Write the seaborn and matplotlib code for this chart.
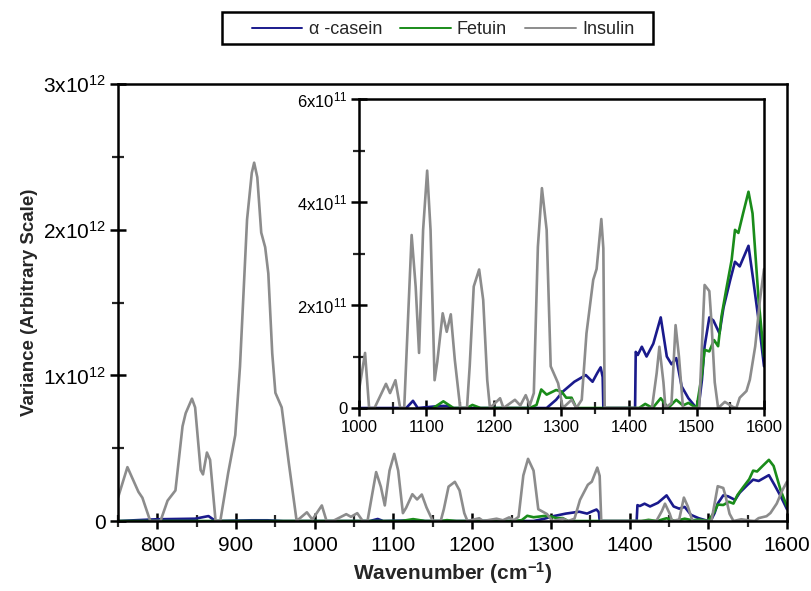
import numpy as np
import pandas as pd
import matplotlib
matplotlib.use("Agg")
import matplotlib.pyplot as plt
import seaborn as sns
from matplotlib.ticker import MultipleLocator
from matplotlib.patches import Rectangle

# Wavenumber (cm-1) / variance values
insulin_x = [750, 762, 776, 781, 791, 804, 813, 823, 832, 836, 844, 848, 855, 858, 863, 867,
             874, 880, 890, 899, 905, 914, 920, 923, 927, 932, 937, 941, 946, 950, 958, 967,
             977, 990, 997, 1009, 1015, 1023, 1040, 1046, 1054, 1061, 1067, 1073, 1078, 1084,
             1089, 1095, 1101, 1106, 1112, 1116, 1124, 1130, 1136, 1142, 1150, 1160, 1164, 1170,
             1178, 1184, 1190, 1194, 1209, 1214, 1231, 1239, 1247, 1253, 1259, 1265, 1271, 1278,
             1284, 1295, 1302, 1315, 1322, 1330, 1337, 1347, 1352, 1359, 1362, 1364, 1434, 1441,
             1445, 1451, 1454, 1463, 1469, 1474, 1480, 1504, 1512, 1519, 1522, 1527, 1532, 1542,
             1554, 1559, 1564, 1574, 1579, 1587, 1594, 1600]
insulin_y = [1.6e11, 3.7e11, 2.0e11, 1.6e11, 0, 0, 1.4e11, 2.1e11, 6.5e11, 7.4e11, 8.4e11, 7.8e11,
             3.5e11, 3.2e11, 4.7e11, 4.2e11, 0, 0, 3.3e11, 5.9e11, 1.06e12, 2.07e12, 2.39e12,
             2.46e12, 2.36e12, 1.98e12, 1.88e12, 1.70e12, 1.15e12, 0.88e12, 0.78e12, 0.40e12,
             0, 0.6e11, 0.1e11, 1.07e11, 0, 0, 0.47e11, 0.29e11, 0.54e11, 0, 0, 1.84e11, 3.36e11,
             2.35e11, 1.07e11, 3.46e11, 4.61e11, 3.46e11, 0.54e11, 0.9e11, 1.84e11, 1.48e11,
             1.82e11, 0.93e11, 0, 0, 0.81e11, 2.36e11, 2.69e11, 2.1e11, 0.54e11, 0, 0.19e11, 0,
             0.16e11, 0.05e11, 0.25e11, 0.05e11, 0.29e11, 3.13e11, 4.27e11, 3.46e11, 0.81e11,
             0.48e11, 0, 0.16e11, 0, 0.16e11, 1.45e11, 2.49e11, 2.7e11, 3.67e11, 3.1e11, 0, 0,
             0.68e11, 1.19e11, 0.5e11, 0, 0.1e11, 1.61e11, 1.0e11, 0, 0, 2.39e11, 2.27e11,
             1.7e11, 0.5e11, 0, 0.12e11, 0.02e11, 0, 0.2e11, 0.33e11, 0.55e11, 1.2e11, 2.1e11,
             2.7e11]

casein_x = [750, 799, 848, 865, 874, 920, 940, 960, 1000, 1070, 1080, 1087, 1120, 1130, 1140,
            1193, 1278, 1292, 1302, 1319, 1336, 1346, 1353, 1358, 1361, 1362, 1409, 1410, 1413,
            1419, 1426, 1436, 1447, 1456, 1463, 1470, 1478, 1488, 1498, 1503, 1508, 1512, 1519,
            1525, 1534, 1540, 1550, 1557, 1564, 1577, 1584, 1592, 1600]
casein_y = [0, 0.12e11, 0.16e11, 0.34e11, 0, 0.05e11, 0.05e11, 0, 0, 0, 0.14e11, 0, 0.04e11,
            0.04e11, 0, 0, 0, 0.16e11, 0.32e11, 0.51e11, 0.64e11, 0.51e11, 0.68e11, 0.79e11,
            0.6e11, 0, 0, 1.09e11, 1.03e11, 1.19e11, 1.0e11, 1.25e11, 1.76e11, 1.0e11, 0.85e11,
            0.97e11, 0.42e11, 0.19e11, 0.03e11, 0, 0.54e11, 1.2e11, 1.76e11, 1.7e11, 1.45e11,
            1.95e11, 2.49e11, 2.84e11, 2.75e11, 3.15e11, 2.49e11, 1.7e11, 0.81e11]

fetuin_x = [750, 1110, 1125, 1140, 1160, 1168, 1180, 1253, 1263, 1270, 1278, 1292, 1300, 1307,
            1315, 1322, 1415, 1424, 1435, 1447, 1458, 1470, 1480, 1488, 1500, 1508, 1512, 1519,
            1526, 1532, 1537, 1544, 1552, 1557, 1562, 1569, 1577, 1583, 1592, 1600]
fetuin_y = [0, 0, 0.13e11, 0, 0, 0.06e11, 0, 0, 0.06e11, 0.36e11, 0.26e11, 0.35e11, 0.32e11,
            0.2e11, 0.2e11, 0, 0, 0.08e11, 0, 0.19e11, 0, 0.16e11, 0.05e11, 0.1e11, 0, 0.65e11,
            1.13e11, 1.1e11, 1.32e11, 1.2e11, 1.78e11, 2.3e11, 2.87e11, 3.46e11, 3.4e11, 3.78e11,
            4.2e11, 3.78e11, 2.1e11, 1.0e11]

series_names = ["\u03b1 -casein", "Fetuin", "Insulin"]
colors = ["#1a1a8c", "#1a8c1a", "#8c8c8c"]

frames = []
for name, xs, ys in zip(series_names, [casein_x, fetuin_x, insulin_x],
                        [casein_y, fetuin_y, insulin_y]):
    frames.append(pd.DataFrame({"wavenumber": xs, "variance": ys, "protein": name}))
df = pd.concat(frames, ignore_index=True)
palette = dict(zip(series_names, colors))

sns.set_style("white")
plt.rcParams["font.family"] = ["Liberation Sans", "DejaVu Sans"]
plt.rcParams["mathtext.default"] = "regular"


def style_axis(ax, fs):
    for s in ax.spines.values():
        s.set_linewidth(1.8)
        s.set_color("black")
    ax.tick_params(which="both", bottom=True, left=True, top=False, right=False)
    ax.tick_params(which="major", direction="inout", length=11, width=1.8,
                   labelsize=fs, colors="black", pad=3)
    ax.tick_params(which="minor", direction="inout", length=8, width=1.6)


def sci_label(v, exp):
    if v == 0:
        return "0"
    return "%dx10$^{%d}$" % (round(v / 10 ** exp), exp)


fig = plt.figure(figsize=(8.12, 5.91), dpi=100)
ax = fig.add_axes([0.1453, 0.1184, 0.8239, 0.7394])
for name in series_names:
    sub = df[df.protein == name]
    sns.lineplot(data=sub, x="wavenumber", y="variance", color=palette[name], lw=1.9,
                 ax=ax, label=name, estimator=None)
ax.set_xlim(750, 1600)
ax.set_ylim(0, 3e12)
ax.xaxis.set_major_locator(MultipleLocator(100))
ax.xaxis.set_minor_locator(MultipleLocator(50))
ax.yaxis.set_major_locator(MultipleLocator(1e12))
ax.yaxis.set_minor_locator(MultipleLocator(0.5e12))
ax.set_yticks([0, 1e12, 2e12, 3e12])
ax.set_yticklabels([sci_label(v, 12) for v in [0, 1e12, 2e12, 3e12]])
ax.set_xticks([800, 900, 1000, 1100, 1200, 1300, 1400, 1500, 1600])
style_axis(ax, 15)
ax.tick_params(axis="x", which="major", pad=5)
ax.set_xlabel("Wavenumber (cm$^{-1}$)", fontsize=15, fontweight="bold", labelpad=4)
ax.set_ylabel("Variance (Arbitrary Scale)", fontsize=13.5, fontweight="bold", labelpad=4)

handles, labels = ax.get_legend_handles_labels()
ax.get_legend().remove()
leg = fig.legend(handles, labels, loc="center", bbox_to_anchor=(443 / 812, 1 - 30 / 591),
                 ncol=3, fontsize=13, frameon=False, handlelength=2.8,
                 columnspacing=1.0, handletextpad=0.35, borderpad=0.2)
for h in leg.get_lines():
    h.set_linewidth(1.4)
# legend box drawn separately: it is wider than the legend content
fig.patches.append(Rectangle((222 / 812, 1 - 44 / 591), 431 / 812, 32 / 591,
                             transform=fig.transFigure, fill=False, edgecolor="black",
                             linewidth=1.8, zorder=5))

ins = fig.add_axes([0.4421, 0.3096, 0.4988, 0.5228])
ins.set_facecolor("white")
for name in series_names:
    sub = df[(df.protein == name) & (df.wavenumber >= 990)]
    sns.lineplot(data=sub, x="wavenumber", y="variance", color=palette[name], lw=1.9,
                 ax=ins, legend=False, estimator=None)
ins.set_xlim(1000, 1600)
ins.set_ylim(0, 6e11)
ins.set_xticks([1000, 1100, 1200, 1300, 1400, 1500, 1600])
ins.xaxis.set_minor_locator(MultipleLocator(50))
ins.set_yticks([0, 2e11, 4e11, 6e11])
ins.yaxis.set_minor_locator(MultipleLocator(1e11))
ins.set_yticklabels([sci_label(v, 11) for v in [0, 2e11, 4e11, 6e11]])
style_axis(ins, 12)
ins.set_xlabel("")
ins.set_ylabel("")

fig.savefig("out.png", dpi=100)
